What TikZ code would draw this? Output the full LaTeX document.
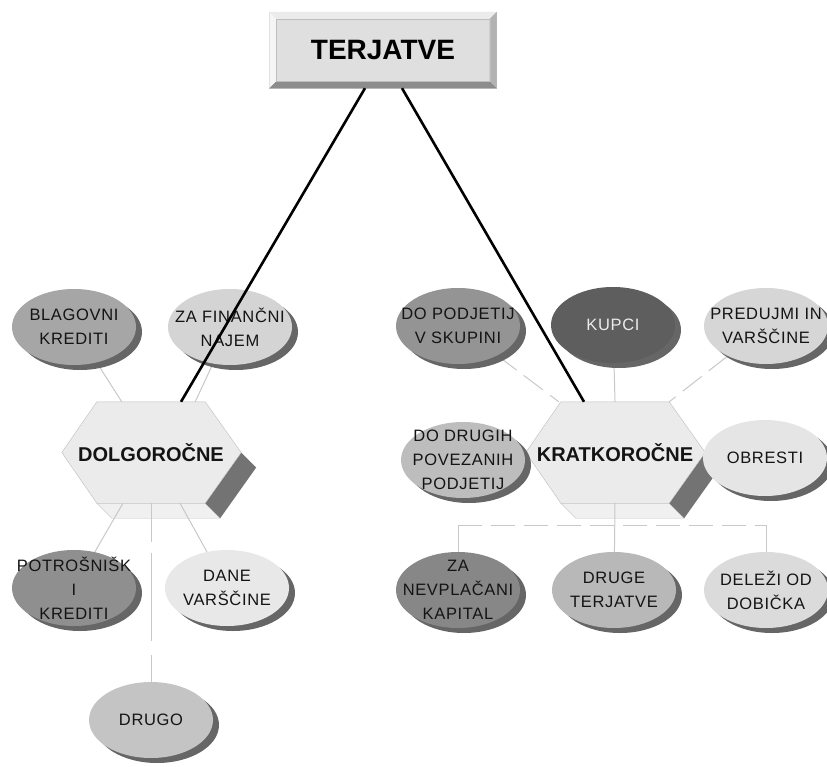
\documentclass[tikz,border=0pt]{standalone}
\usepackage{fontspec}
\setmainfont{Liberation Sans}
\newfontfamily\lblfont[LetterSpace=4]{Liberation Sans}
\usetikzlibrary{calc,shapes.geometric,shadows,backgrounds}
\definecolor{TextGray}{HTML}{141414}
\definecolor{LinkGray}{HTML}{C8C8C8}
\definecolor{FaceGray}{HTML}{EBEBEB}
\definecolor{EdgeGray}{HTML}{BDBDBD}
\def\ShadeGray{black!60}

\begin{document}
\begin{tikzpicture}
    [x=1pt,y=-1pt,
     bubble/.style={ellipse,minimum width=124pt,minimum height=76pt,inner sep=0pt,
       drop shadow={shadow xshift=6pt,shadow yshift=-5pt,fill=\ShadeGray,opacity=1}},
     lbl/.style={font=\lblfont\fontsize{16.5}{24}\selectfont,text=TextGray,align=center},
     body/.style={rectangle,minimum width=108pt,minimum height=101pt,inner sep=0pt},
     hextext/.style={font=\bfseries\fontsize{20}{22}\selectfont,text=TextGray},
     topbox/.style={rectangle,minimum width=227pt,minimum height=76pt,fill=FaceGray!95!black,
       draw=EdgeGray,font=\bfseries\fontsize{28}{30}\selectfont},
     link/.style={draw=LinkGray,line width=1pt},
     longdash/.style={dash pattern=on 24pt off 9pt},
     main/.style={line width=2.6pt,black},
    ]
    \useasboundingbox (0,0) rectangle (827,767);
    % hexagons
    \path node[body] (dol) at (151,452.5) {} node[body] (krat) at (615,452.5) {};
    \foreach \h in {dol,krat}{
      \filldraw[fill=FaceGray,draw=EdgeGray] (\h.north west) -- (\h.north east)
        -- ($(\h.east)+(36,0)$) -- (\h.south east) -- (\h.south west)
        -- ($(\h.west)+(-35,0)$) -- cycle;
    }
    \node[hextext] (dol-t) at (dol) {DOLGOROČNE};
    \node[hextext] (krat-t) at (krat) {KRATKOROČNE};
    % bubbles
    \node[bubble,fill=black!35,label={[lbl]center:{BLAGOVNI\\KREDITI}}] (blag) at (74,327) {};
    \node[bubble,fill=black!17,label={[lbl]center:{ZA FINANČNI\\NAJEM}}] (fin) at (230,327) {};
    \node[bubble,fill=black!44,label={[lbl]center:{POTROŠNIŠK\\I\\KREDITI}}] (pot) at (74,588) {};
    \node[bubble,fill=black!9,label={[lbl]center:{DANE\\VARŠČINE}}] (dane) at (227,588) {};
    \node[bubble,fill=black!23,label={[lbl]center:{DRUGO}}] (drugo) at (151,720) {};
    \node[bubble,fill=black!42,label={[lbl]center:{DO PODJETIJ\\V SKUPINI}}] (podj) at (458,326) {};
    \node[bubble,fill=black!63,label={[lbl,text=black!8]center:{KUPCI}}] (kupci) at (613,325) {};
    \node[bubble,fill=black!16,label={[lbl]center:{PREDUJMI IN\\VARŠČINE}}] (pred) at (766,326) {};
    \node[bubble,fill=black!26,label={[lbl]center:{DO DRUGIH\\POVEZANIH\\PODJETIJ}}] (povez) at (463,460) {};
    \node[bubble,fill=black!10,label={[lbl]center:{OBRESTI}}] (obr) at (765,458) {};
    \node[bubble,fill=black!47,label={[lbl]center:{ZA\\NEVPLAČANI\\KAPITAL}}] (kap) at (458,590) {};
    \node[bubble,fill=black!28,label={[lbl]center:{DRUGE\\TERJATVE}}] (druge) at (614,590) {};
    \node[bubble,fill=black!14,label={[lbl]center:{DELEŽI OD\\DOBIČKA}}] (delez) at (766,590) {};
    \begin{scope}[on background layer]
      % extruded faces of the hexagons
      \foreach \h in {dol,krat}{
        \filldraw[fill=gray!12,draw=EdgeGray] (\h.south west) -- (\h.south east)
          -- ($(\h.south east)+(15,15)$) -- ($(\h.south west)+(15,15)$) -- cycle;
        \fill[black!55] ($(\h.east)+(36,0)$) -- (\h.south east)
          -- ($(\h.south east)+(15,15)$) -- ($(\h.east)+(51,15)$) -- cycle;
      }
      % thin connectors
      \coordinate (split) at ($(krat.south)+(0,22)$);
      \path[link] (blag) edge ($(dol.north west)+(25,0)$) (fin) edge ($(dol.north east)+(-10,0)$)
        ($(dol.south)+(-28,0)$) edge (pot) ($(dol.south)+(29,0)$) edge (dane)
        (kupci) edge (krat.north) (krat.south) edge (druge)
        (kap) edge (kap |- split) (delez) edge (delez |- split);
      \draw[link,dash pattern=on 39pt off 11pt on 88pt off 14pt] (dol.south) -- (drugo);
      \path[link,longdash] (podj) edge ($(krat.north west)+(-2,0)$) (pred) edge (krat.north east)
        (kap |- split) edge (delez |- split);
    \end{scope}
    % title box with bevel
    \node[topbox] (top) at (383,50) {TERJATVE};
    \fill[white!92!black] (top.north west) -- (top.north east) -- ($(top.north east)+(-7,7)$)
      -- ($(top.north west)+(7,7)$) -- cycle;
    \fill[white!96!black] (top.north west) -- (top.south west) -- ($(top.south west)+(7,-7)$)
      -- ($(top.north west)+(7,7)$) -- cycle;
    \fill[black!45] (top.south west) -- (top.south east) -- ($(top.south east)+(-7,-7)$)
      -- ($(top.south west)+(7,-7)$) -- cycle;
    \fill[black!30] (top.south east) -- (top.north east) -- ($(top.north east)+(-7,7)$)
      -- ($(top.south east)+(-7,-7)$) -- cycle;
    \draw[EdgeGray] ($(top.north west)+(7,7)$) rectangle ($(top.south east)+(-7,-7)$);
    % the two main branches
    \draw[main] ($(top.south)+(-18,0)$) -- ($(dol.north)+(30,0)$);
    \draw[main] ($(top.south)+(19,0)$) -- ($(krat.north)+(-31,0)$);
  \end{tikzpicture}
\end{document}
